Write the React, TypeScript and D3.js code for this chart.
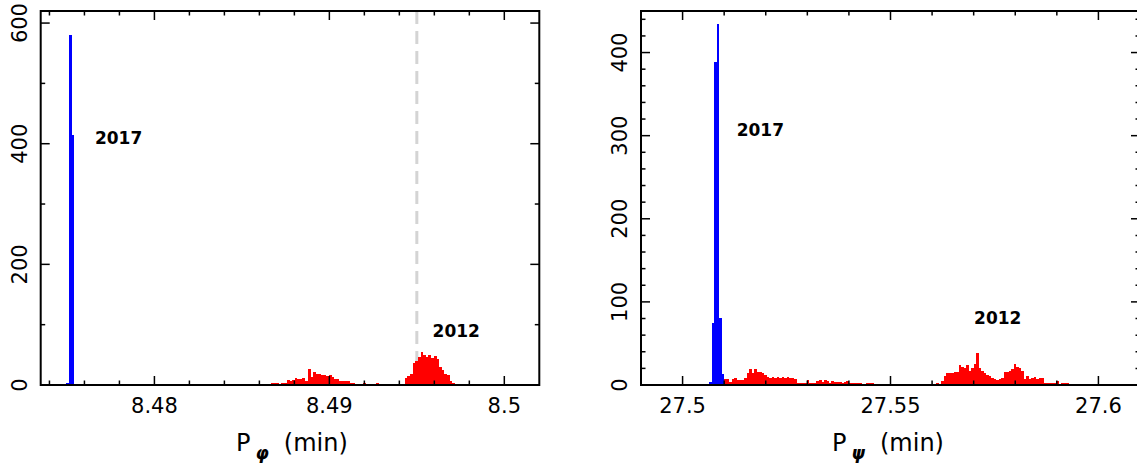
import React from "react";
import * as d3 from "d3";

// ---------- data ----------
const leftBinWidth = 0.00015;
const blue2017LeftStart = 8.47495;
const blue2017LeftCounts = [3, 580, 414];
const red2012LeftAStart = 8.48666;
const red2012LeftACounts = [4, 3, 4, 2, 4, 4, 8, 6, 9, 12, 10, 10, 11, 7, 26, 14, 21, 19, 18, 16, 16, 15, 17, 13, 10, 10, 6, 7, 6, 6, 4, 3, 2, 2, 2, 3, 0, 0, 0, 0, 3];
const red2012LeftBStart = 8.49401;
const red2012LeftBCounts = [2, 2, 11, 15, 19, 37, 40, 46, 55, 49, 46, 50, 44, 48, 43, 30, 25, 19, 17, 6, 4];
const leftRefLine = 8.495;

const rightBinWidth = 0.0006;
const blue2017RightStart = 27.5064;
const blue2017RightCounts = [4, 74, 389, 434, 81, 13];
const red2012RightAStart = 27.51;
const red2012RightACounts = [7, 7, 4, 7, 9, 6, 6, 6, 9, 14, 19, 14, 19, 16, 16, 14, 12, 10, 9, 10, 9, 10, 9, 10, 9, 10, 8, 8, 7, 3, 2, 2, 3, 6, 3, 2, 3, 5, 6, 4, 6, 5, 3, 5, 4, 4, 4, 3, 4, 5, 2, 2, 2, 3, 2, 1, 1, 2, 2, 2];
const red2012RightBStart = 27.561;
const red2012RightBCounts = [2, 1, 5, 11, 14, 14, 15, 16, 16, 24, 22, 20, 24, 17, 21, 25, 38, 20, 17, 15, 12, 11, 9, 7, 6, 7, 9, 16, 16, 17, 19, 25, 22, 20, 17, 7, 11, 7, 9, 10, 7, 9, 8, 3, 3, 3, 2, 2, 5, 1, 2, 2, 2];

const leftXDomain = [8.4735, 8.502];
const leftYDomain = [0, 620];
const leftXMajor = [8.48, 8.49, 8.5];
const leftXMajorLabels = ["8.48", "8.49", "8.5"];
const leftXMinorStep = 0.002;
const leftYMajor = [0, 200, 400, 600];
const leftYMinorStep = 100;

const rightXDomain = [27.49, 27.61];
const rightYDomain = [0, 450];
const rightXMajor = [27.5, 27.55, 27.6];
const rightXMajorLabels = ["27.5", "27.55", "27.6"];
const rightXMinorStep = 0.01;
const rightYMajor = [0, 100, 200, 300, 400];
const rightYMinorStep = 20;

const leftLabels = [
  { text: "2017", x: 8.4766, y: 400 },
  { text: "2012", x: 8.4959, y: 80 },
];
const rightLabels = [
  { text: "2017", x: 27.513, y: 300 },
  { text: "2012", x: 27.5701, y: 73 },
];

const FONT = "'DejaVu Sans', Verdana, sans-serif";

type Series = { start: number; counts: number[]; color: string };

function bins(s: Series, w: number) {
  return s.counts.map((c, i) => ({ x0: s.start + i * w, x1: s.start + (i + 1) * w, c, color: s.color }));
}

function ticksBetween(domain: number[], step: number) {
  const out: number[] = [];
  const start = Math.ceil(domain[0] / step - 1e-9);
  const end = Math.floor(domain[1] / step + 1e-9);
  for (let k = start; k <= end; k++) out.push(+(k * step).toFixed(6));
  return out;
}

function Panel(props: {
  left: number; right: number; top: number; bottom: number;
  xDomain: number[]; yDomain: number[];
  xMajor: number[]; xMajorLabels: string[]; xMinorStep: number;
  yMajor: number[]; yMinorStep: number;
  series: Series[]; binWidth: number;
  labels: { text: string; x: number; y: number }[];
  refLine?: number;
  sub: string;
  titleX: number;
}) {
  const { left, right, top, bottom } = props;
  const x = d3.scaleLinear().domain(props.xDomain).range([left, right]);
  const y = d3.scaleLinear().domain(props.yDomain).range([bottom, top]);
  const xMinor = ticksBetween(props.xDomain, props.xMinorStep);
  const yMinor = ticksBetween(props.yDomain, props.yMinorStep);
  const isMajorX = (v: number) => props.xMajor.some((m) => Math.abs(m - v) < 1e-7);
  const isMajorY = (v: number) => props.yMajor.some((m) => Math.abs(m - v) < 1e-7);
  const maj = 9, min = 4.5;
  const allBins = props.series.flatMap((s) => bins(s, props.binWidth)).filter((b) => b.c > 0);
  return (
    <g>
      {props.refLine !== undefined && (
        <line x1={x(props.refLine)} x2={x(props.refLine)} y1={top} y2={bottom} stroke="#d4d4d4" strokeWidth={3} strokeDasharray="13,7" />
      )}
      {allBins.map((b, i) => (
        <rect key={i} x={x(b.x0)} y={y(b.c)} width={x(b.x1) - x(b.x0) + 0.3} height={bottom - y(b.c)} fill={b.color} shapeRendering="crispEdges" />
      ))}
      {xMinor.filter((v) => v > props.xDomain[0] && v < props.xDomain[1]).map((v, i) => {
        const L = isMajorX(v) ? maj : min;
        return (
          <g key={"xt" + i} stroke="#000" strokeWidth={1.5}>
            <line x1={x(v)} x2={x(v)} y1={bottom} y2={bottom - L} />
            <line x1={x(v)} x2={x(v)} y1={top} y2={top + L} />
          </g>
        );
      })}
      {yMinor.filter((v) => v > props.yDomain[0] && v < props.yDomain[1]).map((v, i) => {
        const L = isMajorY(v) ? maj : min;
        return (
          <g key={"yt" + i} stroke="#000" strokeWidth={1.5}>
            <line x1={left} x2={left + L} y1={y(v)} y2={y(v)} />
            <line x1={right} x2={right - L} y1={y(v)} y2={y(v)} />
          </g>
        );
      })}
      <rect x={left} y={top} width={right - left} height={bottom - top} fill="none" stroke="#000" strokeWidth={2} />
      {props.xMajor.map((v, i) => (
        <text key={"xl" + i} x={x(v)} y={bottom + 28} textAnchor="middle" fontFamily={FONT} fontSize={21} fill="#000">
          {props.xMajorLabels[i]}
        </text>
      ))}
      {props.yMajor.map((v, i) => (
        <text key={"yl" + i} transform={`translate(${left - 14},${y(v)}) rotate(-90)`} textAnchor="middle" fontFamily={FONT} fontSize={21} fill="#000">
          {String(v)}
        </text>
      ))}
      {props.labels.map((l, i) => (
        <text key={"lb" + i} x={x(l.x)} y={y(l.y)} fontFamily={FONT} fontWeight="bold" fontSize={17} fill="#000">
          {l.text}
        </text>
      ))}
      <text x={props.titleX} y={451} textAnchor="start" fontFamily={FONT} fontSize={24} fill="#000">
        <tspan>P</tspan>
        <tspan dx={5} dy={8} fontSize={17} fontWeight="bold" fontStyle="italic">{props.sub}</tspan>
        <tspan dx={15} dy={-8}>(min)</tspan>
      </text>
    </g>
  );
}

export default function App() {
  return (
    <div style={{ position: "fixed", left: 0, top: 0, width: 1137, height: 466, background: "#fff" }}>
      <svg width={1137} height={466} viewBox="0 0 1137 466">
        <rect width={1137} height={466} fill="#fff" />
        <Panel
          left={40.7} right={539.3} top={11} bottom={385}
          xDomain={leftXDomain} yDomain={leftYDomain}
          xMajor={leftXMajor} xMajorLabels={leftXMajorLabels} xMinorStep={leftXMinorStep}
          yMajor={leftYMajor} yMinorStep={leftYMinorStep}
          series={[
            { start: red2012LeftAStart, counts: red2012LeftACounts, color: "#ff0000" },
            { start: red2012LeftBStart, counts: red2012LeftBCounts, color: "#ff0000" },
            { start: blue2017LeftStart, counts: blue2017LeftCounts, color: "#0000ff" },
          ]}
          binWidth={leftBinWidth}
          labels={leftLabels}
          refLine={leftRefLine}
          sub="φ"
          titleX={236}
        />
        <Panel
          left={641} right={1140} top={11} bottom={385}
          xDomain={rightXDomain} yDomain={rightYDomain}
          xMajor={rightXMajor} xMajorLabels={rightXMajorLabels} xMinorStep={rightXMinorStep}
          yMajor={rightYMajor} yMinorStep={rightYMinorStep}
          series={[
            { start: red2012RightAStart, counts: red2012RightACounts, color: "#ff0000" },
            { start: red2012RightBStart, counts: red2012RightBCounts, color: "#ff0000" },
            { start: blue2017RightStart, counts: blue2017RightCounts, color: "#0000ff" },
          ]}
          binWidth={rightBinWidth}
          labels={rightLabels}
          sub="ψ"
          titleX={832}
        />
      </svg>
    </div>
  );
}
